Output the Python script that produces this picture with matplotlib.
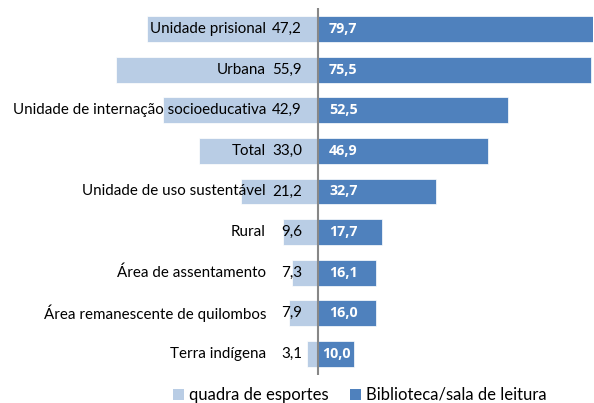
import matplotlib
matplotlib.use("Agg")
import matplotlib.pyplot as plt
from matplotlib import transforms
from matplotlib.patches import Patch

categories = ["Unidade prisional", "Urbana", "Unidade de internação socioeducativa",
              "Total", "Unidade de uso sustentável", "Rural", "Área de assentamento",
              "Área remanescente de quilombos", "Terra indígena"]
quadra = [47.2, 55.9, 42.9, 33.0, 21.2, 9.6, 7.3, 7.9, 3.1]
biblioteca = [79.7, 75.5, 52.5, 46.9, 32.7, 17.7, 16.1, 16.0, 10.0]
series_names = ["quadra de esportes", "Biblioteca/sala de leitura"]

light = "#B9CDE5"
dark = "#4F81BD"
plt.rcParams['font.family'] = ['Lato', 'DejaVu Sans']

W, H = 594, 403
fig = plt.figure(figsize=(W/100, H/100), dpi=100)
ax = fig.add_axes([0, (H-375)/H, 593/W, (375-8)/H])
ppu = 3.62
ax.set_xlim(-318/ppu, (593-318)/ppu)
ax.set_ylim(8.52, -0.52)
ax.axis('off')

y = list(range(len(categories)))
ax.barh(y, [-v for v in quadra], height=0.64, color=light, edgecolor='white', linewidth=0.5)
ax.barh(y, biblioteca, height=0.64, color=dark, edgecolor='white', linewidth=0.5)
ax.axvline(0, color='#878787', lw=1.5, ymin=0, ymax=1)

fs = 10.9
off_cat = transforms.offset_copy(ax.transData, fig=fig, x=-52, y=0, units='dots')
off_val = transforms.offset_copy(ax.transData, fig=fig, x=-16, y=0, units='dots')
off_r = transforms.offset_copy(ax.transData, fig=fig, x=11, y=0, units='dots')
for i, (c, q, b) in enumerate(zip(categories, quadra, biblioteca)):
    ax.text(0, i, c, transform=off_cat, ha='right', va='center', fontsize=fs, color='black')
    ax.text(0, i, f"{q:.1f}".replace('.', ','), transform=off_val, ha='right', va='center',
            fontsize=fs, color='black')
    lab = f"{b:.1f}".replace('.', ',')
    kw = dict(va='center', fontsize=10.3, color='white', fontweight='bold',
              family=['Open Sans', 'DejaVu Sans'])
    if b * ppu < 50:
        ax.text(b/2, i, lab, ha='center', **kw)
    else:
        ax.text(0, i, lab, transform=off_r, ha='left', **kw)

handles = [Patch(facecolor=light, edgecolor='none'), Patch(facecolor=dark, edgecolor='none')]
fig.legend(handles, series_names, loc='center', bbox_to_anchor=(360/W, 1-395/H), ncol=2,
           frameon=False, fontsize=12, handlelength=0.65, handleheight=0.65,
           handletextpad=0.3, columnspacing=1.3, borderaxespad=0)

fig.savefig("out.png", dpi=100)
